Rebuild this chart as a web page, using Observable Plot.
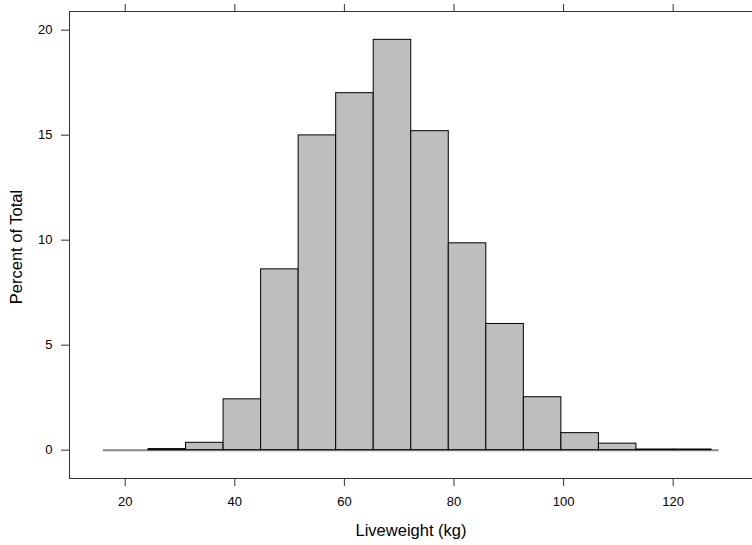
<!DOCTYPE html>
<html>
<head>
<meta charset="utf-8">
<script src="https://cdn.jsdelivr.net/npm/d3@7"></script>
<script src="https://cdn.jsdelivr.net/npm/@observablehq/plot@0.6"></script>
<style>
  html, body { margin: 0; padding: 0; background: #fff; overflow: hidden; }
</style>
</head>
<body>
<div id="chart"></div>
<script>
// Histogram bin edges (kg) and percent of total in each bin
const breaks = [24.25, 31.1, 37.95, 44.8, 51.65, 58.5, 65.35, 72.2, 79.05, 85.9, 92.75, 99.6, 106.45, 113.3, 120.15, 127.0];
const percent = [0.05, 0.35, 2.42, 8.61, 14.99, 17.0, 19.54, 15.19, 9.85, 6.01, 2.52, 0.81, 0.31, 0.03, 0.03];
// Span of the observed liveweights
const dataRange = [16.0, 128.4];

const xTicks = [20, 40, 60, 80, 100, 120];
const yTicks = [0, 5, 10, 15, 20];
const xTitle = "Liveweight (kg)";
const yTitle = "Percent of Total";

const xDomain = [9.83, 134.48];
const yDomain = [-1.35, 20.89];

const bins = percent.map((p, i) => ({x1: breaks[i], x2: breaks[i + 1], pct: p}));

const axisColor = "#333";

const chart = Plot.plot({
  width: 752,
  height: 545,
  marginLeft: 69,
  marginRight: 0,
  marginTop: 11,
  marginBottom: 67,
  style: {
    fontFamily: "'Liberation Sans', Arial, sans-serif",
    fontSize: "13px",
    color: "#000",
    background: "#fff"
  },
  x: {domain: xDomain},
  y: {domain: yDomain},
  marks: [
    Plot.ruleY([0], {x1: dataRange[0], x2: dataRange[1], stroke: "#888", strokeWidth: 2}),
    Plot.rectY(bins, {x1: "x1", x2: "x2", y1: 0, y2: "pct", fill: "#bebebe", stroke: "#000", strokeWidth: 1, inset: 0}),
    // panel border (left, top, bottom)
    Plot.ruleX([xDomain[0]], {stroke: axisColor}),
    Plot.ruleY([yDomain[0], yDomain[1]], {stroke: axisColor}),
    Plot.axisX(xTicks, {anchor: "bottom", tickSize: 8, tickPadding: 10, label: null, stroke: axisColor, fill: "#000"}),
    Plot.axisX(xTicks, {anchor: "top", tickSize: 8, tickFormat: () => "", label: null, stroke: axisColor}),
    Plot.axisY(yTicks, {anchor: "left", tickSize: 8, tickPadding: 9, label: null, stroke: axisColor, fill: "#000"}),
    Plot.text([xTitle], {frameAnchor: "bottom", dy: 52, textAnchor: "middle", lineAnchor: "middle", fontSize: 16.5, fill: "#000"}),
    Plot.text([yTitle], {frameAnchor: "left", dx: -53, dy: 2, textAnchor: "middle", lineAnchor: "middle", rotate: -90, fontSize: 16.5, fill: "#000"})
  ]
});

document.getElementById("chart").appendChild(chart);
</script>
</body>
</html>
